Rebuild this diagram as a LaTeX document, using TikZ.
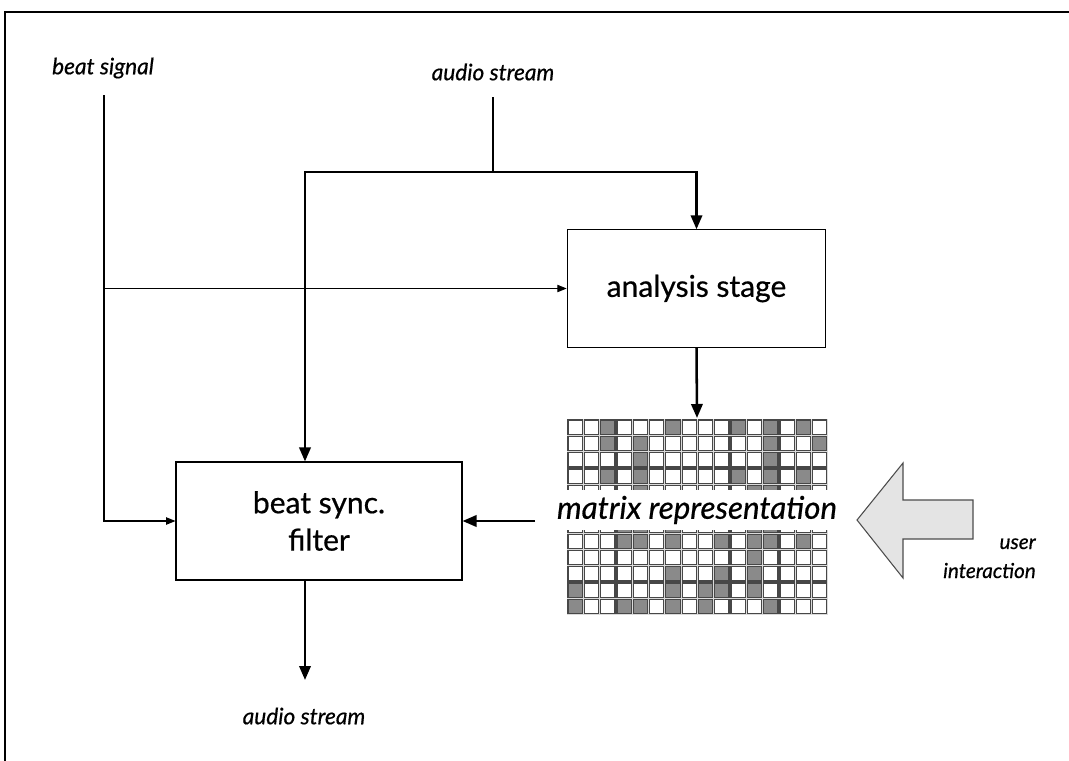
\documentclass[tikz,border=0pt]{standalone}
\usepackage{fontspec}
\setmainfont{Lato}[FakeBold=0.6]
\usetikzlibrary{arrows.meta}
\definecolor{cellgray}{RGB}{138,138,138}
\definecolor{handfill}{RGB}{228,228,228}
\begin{document}
\begin{tikzpicture}[x=0.75pt,y=-0.75pt,
  thinline/.style={line width=0.8pt},
  thickline/.style={line width=1.9pt},
  thinarrow/.style={thinline,-{Triangle[length=7pt,width=5.5pt]}},
  thickarrow/.style={thickline,-{Triangle[length=10.5pt,width=8.5pt]}},
  block/.style={draw,line width=0.8pt,align=center,inner sep=0pt,
    font=\fontsize{22.5}{28}\selectfont},
  tag/.style={font=\itshape\fontsize{17}{20}\selectfont,inner sep=0pt},
  cell/.style={draw=black!72,line width=0.9pt},
  ]
\useasboundingbox (0,0) rectangle (1069,760);

% open frame: left and top edges
\draw[line width=1.6pt] (5,762) -- (5,12) -- (1071,12);

% processing blocks
\node[block,minimum width=194pt,minimum height=88pt] (ana) at (696.5,288.5) {analysis stage};
\node[block,minimum width=214.5pt,minimum height=88.5pt] (filt) at (319,521) {beat sync.\\filter};

% matrix of cells
\fill[gray!28] (567,419) rectangle (827.8,614.6);
\foreach \r in {1,...,12}
  \foreach \c in {1,...,16}
    \draw[cell,fill=white] ({567+(\c-1)*16.3+1},{419+(\r-1)*16.3+1}) rectangle +(14.3,14.3);
\foreach \r/\cs in {1/{3,7,11,13,15},2/{3,5,13,16},3/{5,13},4/{3,5,11,13,15},
                    5/{5,12,13,15},7/{4,5,7,12,13},8/{4,5,7,10,12,13,15},9/{12},
                    10/{7,10,12},11/{1,7,9,10,12},12/{1,4,5,7,9,13}}
  \foreach \c in \cs
    \draw[cell,fill=cellgray] ({567+(\c-1)*16.3+1},{419+(\r-1)*16.3+1}) rectangle +(14.3,14.3);
\node[fill=white,inner sep=0pt,minimum height=30pt,minimum width=220pt,
  font=\itshape\fontsize{23.5}{28}\selectfont] (mat) at (697,510) {matrix representation};
\coordinate (mattop) at (697,418);
\coordinate (matout) at (535,521);

% user interaction arrow
\draw[fill=handfill,draw=black!70,line width=0.8pt]
  (857,520) -- (903,463) -- (903,500) -- (973,500) -- (973,539) -- (903,539) -- (903,578) -- cycle;
\node[tag,font=\itshape\fontsize{15.5}{18}\selectfont,anchor=base east] (user) at (1036,549) {user};
\node[tag,font=\itshape\fontsize{15.5}{18}\selectfont,anchor=base east] (inter) at (1036,578) {interaction};

% labels
\node[tag] (beat) at (103,68) {beat signal};
\node[tag] (ain) at (493,72) {audio stream};
\node[tag] (aout) at (304,716) {audio stream};

% beat signal distribution
\coordinate (bstop) at (104,95);
\coordinate (bsj) at (104,288.5);
\draw[thinarrow] (bstop) |- (filt.west);
\draw[thinarrow] (bsj) -- (ana.west);

% audio stream distribution
\coordinate (astop) at (493,97);
\coordinate (ajn) at (493,172);
\coordinate (fin) at (305,476.5);
\coordinate (fout) at (305,565.5);
\coordinate (aend) at (305,680);
\draw[thickline] (astop) -- (ajn);
\draw[thickarrow] (ajn) -| (ana.north);
\draw[thickarrow] (ajn) -| (fin |- filt.north);
\draw[thickarrow] (fout |- filt.south) -- (aend);

% data flow
\draw[thickarrow] (ana.south) -- (mattop);
\draw[thickarrow] (matout) -- (filt.east);
\end{tikzpicture}
\end{document}
